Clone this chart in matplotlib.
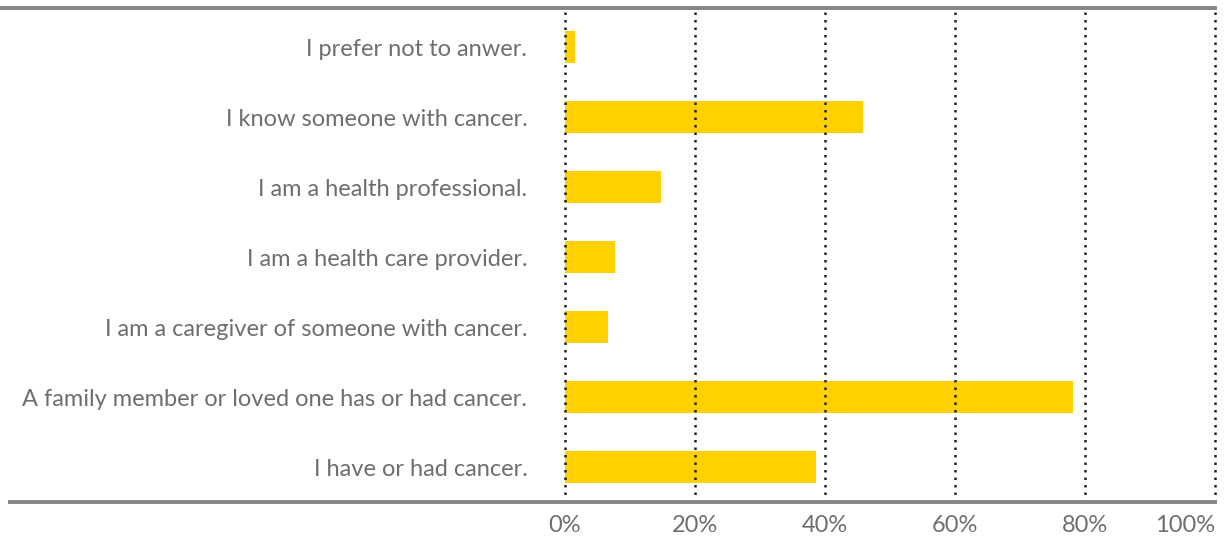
import matplotlib
matplotlib.use("Agg")
import matplotlib.pyplot as plt
from matplotlib.lines import Line2D
from matplotlib.ticker import FuncFormatter

# answers, bottom to top as drawn
categories = [
    "I have or had cancer.",
    "A family member or loved one has or had cancer.",
    "I am a caregiver of someone with cancer.",
    "I am a health care provider.",
    "I am a health professional.",
    "I know someone with cancer.",
    "I prefer not to anwer.",
]
percent = [38.6, 78.2, 6.6, 7.7, 14.7, 45.8, 1.5]
xticks = [0, 20, 40, 60, 80, 100]

plt.rcParams["font.family"] = ["Lato", "DejaVu Sans"]
text_grey = "#6e6e6e"
line_grey = "#858585"

fig = plt.figure(figsize=(12.24, 5.37), dpi=100)
ax = fig.add_axes([565 / 1224, 1 - 502 / 537, (1215 - 565) / 1224, (502 - 12) / 537])

ax.barh(range(len(categories)), percent, height=0.47, color="#FFD100", zorder=1)

ax.set_xlim(0, 100)
ax.set_ylim(-0.5, len(categories) - 0.5)
ax.set_xticks(xticks)
ax.xaxis.set_major_formatter(FuncFormatter(lambda v, p: f"{v:.0f}%"))
ax.set_yticks(range(len(categories)))
ax.set_yticklabels(categories)

ax.grid(axis="x", color="#222222", linestyle=(0, (1, 2.0)), linewidth=1.8, zorder=3)
ax.set_axisbelow(False)
for gl in ax.get_xgridlines():
    gl.set_clip_on(False)

for s in ax.spines.values():
    s.set_visible(False)
ax.tick_params(axis="both", length=0, labelsize=17, labelcolor=text_grey)
ax.tick_params(axis="y", pad=27)
ax.tick_params(axis="x", pad=9)
ax.get_xticklabels()[-1].set_horizontalalignment("right")

# heavy grey rules at top and bottom
fig.add_artist(Line2D([0, 1215 / 1224], [1 - 8 / 537] * 2, color=line_grey, lw=2.8))
fig.add_artist(Line2D([10 / 1224, 1215 / 1224], [1 - 502 / 537] * 2, color=line_grey, lw=2.8))

fig.savefig("out.png", dpi=100)
